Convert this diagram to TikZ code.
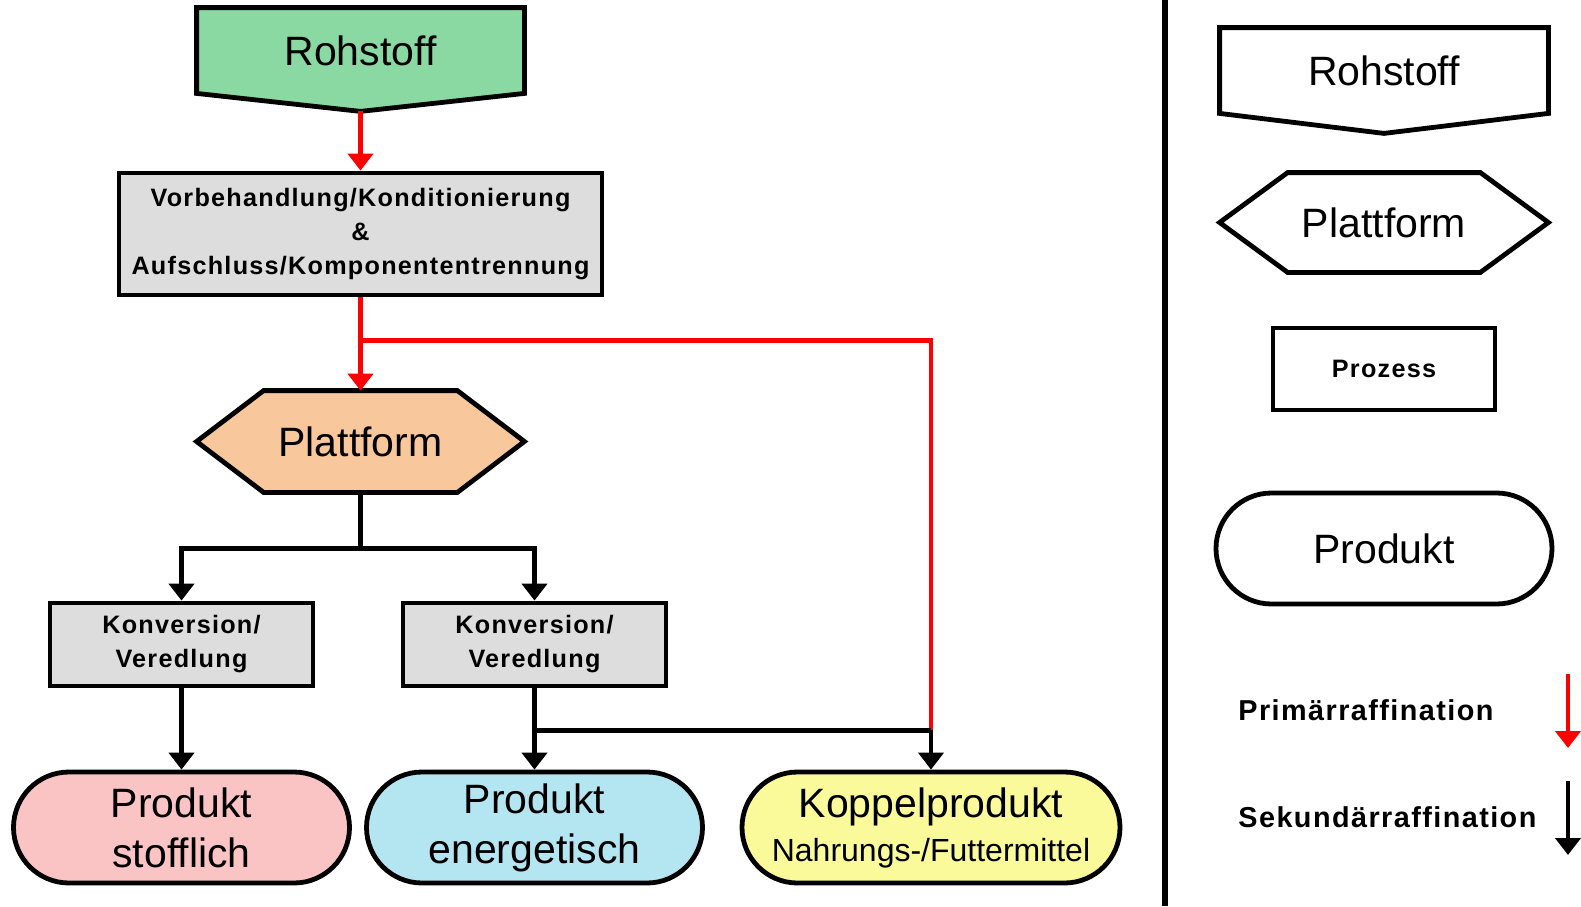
\documentclass[tikz,border=0pt]{standalone}
\usepackage{fontspec}
\setmainfont{Liberation Sans}
\newfontfamily\spacedfont[LetterSpace=5]{Liberation Sans}
\usetikzlibrary{shapes.misc,calc,backgrounds,arrows.meta}
\definecolor{rohgreen}{RGB}{139,217,162}
\definecolor{plattorange}{RGB}{248,199,155}
\definecolor{procgray}{RGB}{221,221,221}
\definecolor{prodpink}{RGB}{250,196,196}
\definecolor{prodblue}{RGB}{180,230,242}
\definecolor{prodyellow}{RGB}{250,250,155}

\begin{document}
\begin{tikzpicture}[x=0.5pt, y=-0.5pt,
  every node/.style = {inner sep=0pt, align=center},
  big/.style = {font=\fontsize{20.5}{25}\selectfont},
  proc/.style = {font=\spacedfont\bfseries\fontsize{12.6}{17}\selectfont},
  outline/.style = {draw, line width=2.4pt},
  procbox/.style = {proc, rectangle, outline, fill=procgray},
  produkt/.style = {big, rounded rectangle, outline,
    minimum width=168pt, minimum height=55.5pt},
  prim/.style = {red, line width=2.4pt},
  sek/.style = {black, line width=2.4pt},
  tip/.style = {-{Triangle[width=12.5pt,length=8.5pt]}}]
  \useasboundingbox (0,0) rectangle (1581,906);

  \node[big, minimum width=163.5pt, minimum height=42.5pt] (roh) at (360.5,50.5) {Rohstoff};
  \node[procbox, minimum width=241.5pt, minimum height=61pt] (vor) at (360.5,234)
    {Vorbehandlung/Konditionierung\\\&\\Aufschluss/Komponententrennung};
  \node[big, minimum width=163.5pt, minimum height=50.5pt] (platt) at (360.5,441.5) {Plattform};
  \node[procbox, minimum width=131.5pt, minimum height=41.5pt] (k1) at (181.5,644.5) {Konversion/\\Veredlung};
  \node[procbox, minimum width=131.5pt, minimum height=41.5pt] (k2) at (534.5,644.5) {Konversion/\\Veredlung};
  \node[produkt, fill=prodpink] (p1) at (181.5,827.5) {Produkt\\stofflich};
  \node[produkt, fill=prodblue] (p2) at (534.5,827.5) {Produkt\\energetisch};
  \node[produkt, fill=prodyellow, minimum width=189pt] (kop) at (931,827.5)
    {Koppelprodukt\\[-3pt]{\fontsize{16}{20}\selectfont Nahrungs-/Futtermittel}};

  \node[big, minimum width=164pt, minimum height=42.5pt] (lroh) at (1384,70.5) {Rohstoff};
  \node[big, minimum width=164pt, minimum height=49.5pt] (lplatt) at (1384,222.5) {Plattform};
  \node[proc, rectangle, outline, minimum width=111pt, minimum height=41pt] (lproz) at (1384,369) {Prozess};
  \node[produkt] (lprod) at (1384,548.5) {Produkt};
  \node[font=\spacedfont\bfseries\fontsize{14.4}{17}\selectfont, anchor=west] (primtxt) at (1238,710) {Primärraffination};
  \node[font=\spacedfont\bfseries\fontsize{14.4}{17}\selectfont, anchor=west] (sektxt) at (1238,817) {Sekundärraffination};

  \begin{scope}[on background layer]
    \filldraw[outline, fill=rohgreen] (roh.north west) -- (roh.north east) -- (roh.south east)
      -- ($(roh.south)+(0,18)$) -- (roh.south west) -- cycle;
    \filldraw[outline, fill=plattorange] (platt.west) -- ($(platt.north west)+(67,0)$)
      -- ($(platt.north east)+(-67,0)$) -- (platt.east) -- ($(platt.south east)+(-67,0)$)
      -- ($(platt.south west)+(67,0)$) -- cycle;
    \draw[outline] (lroh.north west) -- (lroh.north east) -- (lroh.south east)
      -- ($(lroh.south)+(0,20)$) -- (lroh.south west) -- cycle;
    \draw[outline] (lplatt.west) -- ($(lplatt.north west)+(68,0)$)
      -- ($(lplatt.north east)+(-68,0)$) -- (lplatt.east) -- ($(lplatt.south east)+(-68,0)$)
      -- ($(lplatt.south west)+(68,0)$) -- cycle;
  \end{scope}

  \coordinate (rohtip) at ($(roh.south)+(0,18)$);
  \coordinate (split) at ($(vor.south)+(0,43)$);
  \coordinate (pjoin) at ($(platt.south)+(0,56)$);
  \coordinate (kjoin) at ($(k2.south)+(0,42)$);
  \coordinate (kopjoin) at (kjoin -| kop.north);

  \draw[prim, tip] (rohtip) -- (vor.north);
  \draw[prim, tip] (vor.south) -- (platt.north);
  \draw[prim] (split) -| (kopjoin);
  \draw[sek] (platt.south) -- (pjoin);
  \draw[sek, tip] (pjoin) -| (k1.north);
  \draw[sek, tip] (pjoin) -| (k2.north);
  \draw[sek, tip] (k1.south) -- (p1.north);
  \draw[sek, tip] (k2.south) -- (p2.north);
  \draw[sek] (kjoin) -- (kopjoin);
  \draw[sek, tip] (kopjoin) -- (kop.north);

  \draw[line width=2.6pt] (1165,0) -- (1165,906);
  \coordinate (primtop) at (1568,674);
  \coordinate (primbot) at (1568,748);
  \coordinate (sektop) at (1568,781);
  \coordinate (sekbot) at (1568,855);
  \draw[prim, tip] (primtop) -- (primbot);
  \draw[sek, tip] (sektop) -- (sekbot);
\end{tikzpicture}
\end{document}
